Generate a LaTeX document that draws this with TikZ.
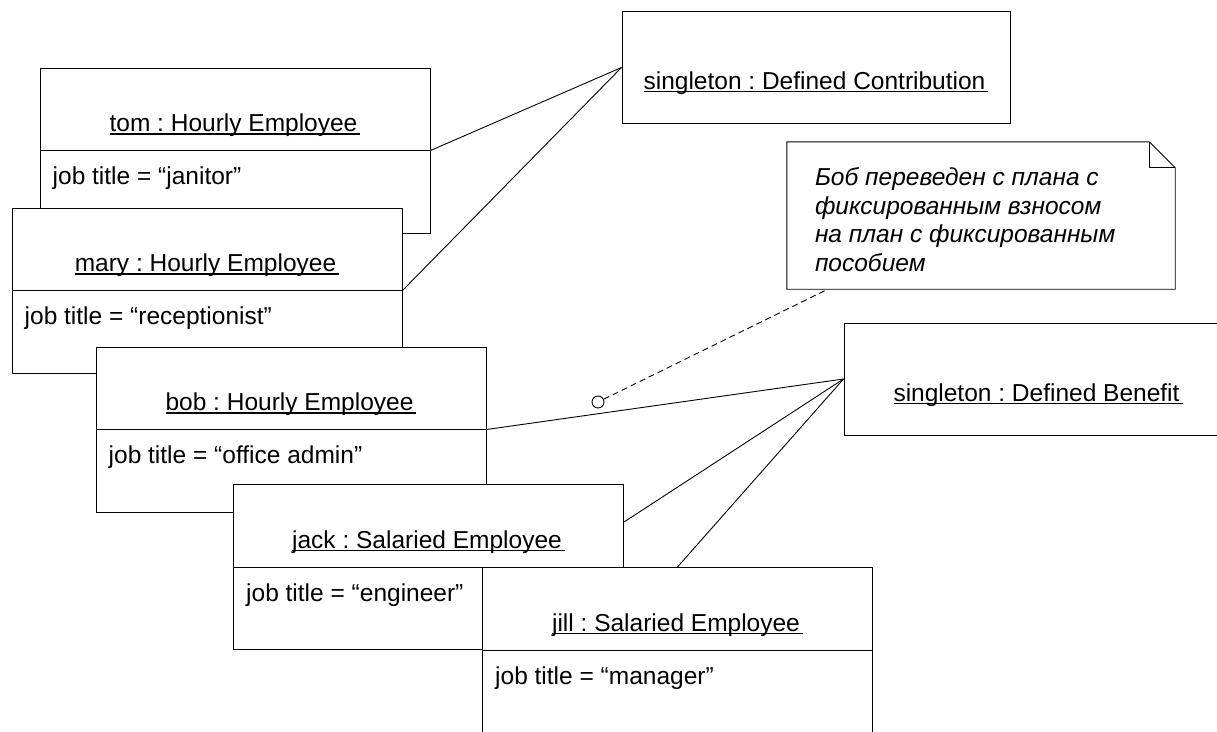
\documentclass[tikz,border=0pt]{standalone}
\usepackage{fontspec}
\setmainfont{Liberation Sans}
\usepackage{tikz}
\usetikzlibrary{positioning, calc}
\frenchspacing
\newcommand{\uname}[1]{\setbox0\hbox{#1\kern3pt}\rlap{\rule[-3pt]{\wd0}{1.2pt}}\box0}

\tikzset{
    obj/.style={draw, fill=white, line width=1pt, minimum width=390pt, minimum height=165pt, inner sep=0pt},
    single/.style={draw, fill=white, line width=1pt, minimum width=388pt, minimum height=112pt, inner sep=0pt},
    notebox/.style={fill=white, minimum width=388pt, minimum height=147pt, inner sep=0pt},
    objname/.style={anchor=base, inner sep=0pt, font=\fontsize{24.5}{29}\selectfont},
    objattr/.style={anchor=base west, inner sep=0pt, font=\fontsize{24.5}{29}\selectfont},
    notetext/.style={anchor=north west, inner sep=0pt, align=left, font=\fontsize{24.5}{28.4}\selectfont\itshape},
    divline/.style={line width=1pt},
    link/.style={line width=0.9pt}
}

\begin{document}
\begin{tikzpicture}[x=1pt, y=-1pt]
    \useasboundingbox (0,0) rectangle (1217,731);
    \clip (0,0) rectangle (1217,731);

    \node[obj] (tom) at (235,150.5) {};
    \coordinate (tomdiv) at ($(tom.north east)+(0,83)$);
    \draw[divline] (tom.west |- tomdiv) -- (tomdiv);
    \node[objname] (tomname) at ($(tom.north)+(0,64)$) {\uname{tom : Hourly Employee}};
    \node[objattr] (tomattr) at ($(tom.north west)+(13,117)$) {job title = “janitor”};

    \node[obj] (mary) at (207,290.5) {};
    \coordinate (marydiv) at ($(mary.north east)+(0,83)$);
    \draw[divline] (mary.west |- marydiv) -- (marydiv);
    \node[objname] (maryname) at ($(mary.north)+(0,64)$) {\uname{mary : Hourly Employee}};
    \node[objattr] (maryattr) at ($(mary.north west)+(13,117)$) {job title = “receptionist”};

    \node[obj] (bob) at (291,429.5) {};
    \coordinate (bobdiv) at ($(bob.north east)+(0,83)$);
    \draw[divline] (bob.west |- bobdiv) -- (bobdiv);
    \node[objname] (bobname) at ($(bob.north)+(0,64)$) {\uname{bob : Hourly Employee}};
    \node[objattr] (bobattr) at ($(bob.north west)+(13,117)$) {job title = “office admin”};

    \node[obj] (jack) at (428.5,567) {};
    \coordinate (jackdiv) at ($(jack.north east)+(0,83)$);
    \coordinate (jacklink) at ($(jack.north east)+(0,38)$);
    \draw[divline] (jack.west |- jackdiv) -- (jackdiv);
    \node[objname] (jackname) at ($(jack.north)+(0,64)$) {\uname{jack : Salaried Employee}};
    \node[objattr] (jackattr) at ($(jack.north west)+(13,117)$) {job title = “engineer”};

    \node[obj] (jill) at (677.5,650) {};
    \coordinate (jilldiv) at ($(jill.north east)+(0,83)$);
    \draw[divline] (jill.west |- jilldiv) -- (jilldiv);
    \node[objname] (jillname) at ($(jill.north)+(0,64)$) {\uname{jill : Salaried Employee}};
    \node[objattr] (jillattr) at ($(jill.north west)+(13,117)$) {job title = “manager”};

    \node[single] (dc) at (816,67.5) {};
    \node[objname] (dcname) at ($(dc.center)+(0,21.5)$) {\uname{singleton : Defined Contribution}};

    \node[single] (db) at (1038,379) {};
    \node[objname] (dbname) at ($(db.center)+(0,22)$) {\uname{singleton : Defined Benefit}};

    \node[notebox] (note) at (981,215.5) {};
    \draw[link] (note.south west) -- (note.north west) -- ($(note.north east)+(-26,0)$)
        -- ($(note.north east)+(0,26)$) -- (note.south east) -- cycle;
    \draw[link] ($(note.north east)+(-26,0)$) -- ($(note.north east)+(-26,26)$) -- ($(note.north east)+(0,26)$);
    \node[notetext] (notetxt) at ($(note.north west)+(28,26)$) {Боб переведен с плана с\\фиксированным взносом\\на план с фиксированным\\пособием};

    \node[circle, draw, link, inner sep=0pt, minimum size=12pt] (bobmark) at (598,402) {};
    \coordinate (notefoot) at ($(note.south west)+(41,0)$);

    \draw[link] (tomdiv) -- (dc.west);
    \draw[link] (marydiv) -- (dc.west);
    \draw[link] (bobdiv) -- (db.west);
    \draw[link] (jacklink) -- (db.west);
    \draw[link] (jill.north) -- (db.west);
    \draw[link, dash pattern=on 6pt off 4pt] (bobmark) -- (notefoot);
\end{tikzpicture}
\end{document}
